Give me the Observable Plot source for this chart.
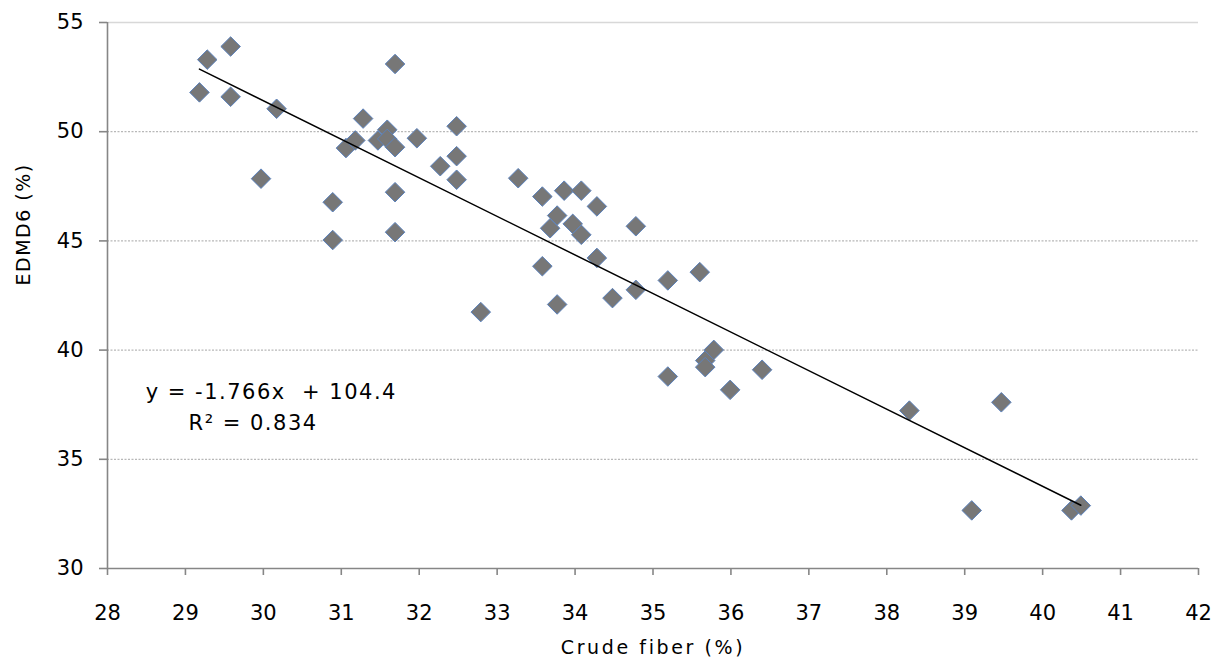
<!DOCTYPE html>
<html>
<head>
<meta charset="utf-8">
<script src="https://cdn.jsdelivr.net/npm/d3@7"></script>
<script src="https://cdn.jsdelivr.net/npm/@observablehq/plot@0.6"></script>
<style>
  html, body { margin: 0; padding: 0; background: #fff; }
  #chart svg { display: block; }
  #chart [aria-label="y-axis tick"], #chart [aria-label="x-axis tick"] { stroke: #868686; stroke-width: 1.6; }
</style>
</head>
<body>
<div id="chart"></div>
<script>
// ---- data ----
const crudeFiber = [29.18, 29.28, 29.58, 29.58, 30.17, 29.97, 30.89, 30.89, 31.06, 31.18,
  31.28, 31.47, 31.59, 31.59, 31.69, 31.69, 31.69, 31.69, 31.97, 32.27,
  32.48, 32.48, 32.48, 32.79, 33.27, 33.58, 33.58, 33.68, 33.77, 33.77,
  33.86, 33.97, 34.08, 34.08, 34.28, 34.28, 34.48, 34.78, 34.78, 35.19,
  35.19, 35.60, 35.67, 35.67, 35.78, 35.99, 36.40, 38.29, 39.09, 39.47,
  40.37, 40.49];
const edmd6 = [51.8, 53.3, 53.9, 51.6, 51.05, 47.85, 46.77, 45.04, 49.25, 49.6,
  50.6, 49.6, 50.09, 49.67, 49.29, 53.1, 47.23, 45.4, 49.7, 48.42,
  50.25, 48.88, 47.8, 41.74, 47.87, 47.03, 43.84, 45.58, 46.16, 42.09,
  47.3, 45.78, 45.28, 47.3, 46.58, 44.22, 42.38, 42.76, 45.67, 43.19,
  38.79, 43.57, 39.52, 39.22, 40.01, 38.18, 39.1, 37.23, 32.66, 37.61,
  32.66, 32.88];
const slope = -1.766;
const intercept = 104.4;
const equationLines = ["y = -1.766x  + 104.4", "R\u00B2 = 0.834"];
const xTicks = [28, 29, 30, 31, 32, 33, 34, 35, 36, 37, 38, 39, 40, 41, 42];
const yTicks = [30, 35, 40, 45, 50, 55];
const xLabel = "Crude fiber (%)";
const yLabel = "EDMD6 (%)";

// ---- derived tables ----
const points = crudeFiber.map((x, i) => ({x, y: edmd6[i]}));
const [xMin, xMax] = d3.extent(crudeFiber);
const trend = [xMin, xMax].map(x => ({x, y: slope * x + intercept}));
// annotation anchors (data coordinates)
const eqAnchors = [{x: 28.49, y: 38.06}, {x: 29.04, y: 36.64}];
const equation = equationLines.map((t, i) => ({text: t, ...eqAnchors[i]}));

const font = "'DejaVu Sans', sans-serif";

const chart = Plot.plot({
  width: 1219,
  height: 665,
  marginLeft: 107,
  marginRight: 21,
  marginTop: 22,
  marginBottom: 97,
  style: {background: "#fff", fontFamily: font, color: "#000"},
  x: {domain: [28, 42]},
  y: {domain: [30, 55]},
  marks: [
    Plot.ruleY(yTicks.filter(d => d > 30 && d < 55), {stroke: "#b8b8b8", strokeWidth: 1.2, strokeDasharray: "2,1.5"}),
    Plot.ruleY([55], {stroke: "#d8d8d8", strokeWidth: 1.5}),
    Plot.axisY({ticks: yTicks, tickSize: 8, tickPadding: 16, fontSize: 21, label: null, tickFormat: d => String(d)}),
    Plot.axisX({ticks: xTicks, tickSize: 7, tickPadding: 30, fontSize: 21, label: null, tickFormat: d => String(d)}),
    Plot.ruleX([28], {stroke: "#868686", strokeWidth: 1.6}),
    Plot.ruleY([30], {stroke: "#868686", strokeWidth: 1.6}),
    Plot.dot(points, {x: "x", y: "y", symbol: "diamond2", r: 8.8, fill: "#777777", stroke: "#5b82bd", strokeWidth: 1}),
    Plot.line(trend, {x: "x", y: "y", stroke: "#000", strokeWidth: 1.5}),
    Plot.text(equation, {x: "x", y: "y", text: "text", textAnchor: "start", fontSize: 21, fill: "#000", fontFamily: font}),
    Plot.text([xLabel], {frameAnchor: "bottom", dy: 85, fontSize: 19, fill: "#000", fontFamily: font}),
    Plot.text([yLabel], {frameAnchor: "left", dx: -84, dy: -10, rotate: -90, fontSize: 19, fill: "#000", fontFamily: font})
  ]
});
document.getElementById("chart").appendChild(chart);
// letter spacing to mimic the wide bitmap text of the reference
const textGroups = chart.querySelectorAll('g[aria-label="text"]');
textGroups.forEach((g, i) => {
  const spacing = i === 1 ? "2.6" : "1.5";
  g.querySelectorAll("text").forEach(t => t.setAttribute("letter-spacing", spacing));
});
</script>
</body>
</html>
